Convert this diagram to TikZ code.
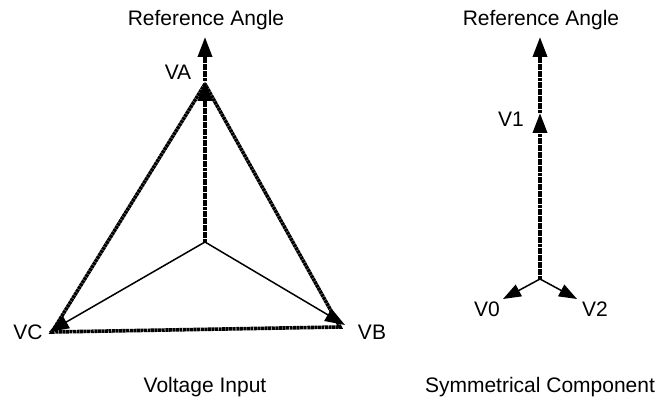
\documentclass[tikz,border=0pt]{standalone}
\usepackage{fontspec}
\setmainfont{Liberation Sans}
\usetikzlibrary{arrows.meta}
\begin{document}
\begin{tikzpicture}[x=1pt,y=-1pt,
  lbl/.style={font=\fontsize{21}{25}\selectfont, anchor=base, inner sep=0pt},
  beads/.style={line width=3.6pt, dash pattern=on 3pt off 0.55pt},
  thinline/.style={line width=1.5pt},
  bigarrow/.style={-{Triangle[length=20pt,width=14pt]}},
  smallarrow/.style={-{Triangle[length=18pt,width=13pt]}}]
\useasboundingbox (0,0) rectangle (659,403);
% left diagram
\coordinate (O) at (205,242);
\coordinate (VA) at (205,81);
\coordinate (VB) at (345,325);
\coordinate (VC) at (49,332);
\coordinate (RA) at (205,37);
\coordinate (VAe) at (205,84);
\coordinate (VBe) at (340,327);
\coordinate (VCe) at (52,332);
\draw[beads] (VAe) -- (VCe) -- (VBe) -- cycle;
\draw[beads, bigarrow] (O) -- (VA);
\draw[beads, bigarrow] (VA) -- (RA);
\draw[thinline, bigarrow] (O) -- (VB);
\draw[thinline, bigarrow] (O) -- (VC);
\node[lbl] (tRA) at (206,26) {Reference Angle};
\node[lbl] (tVA) at (178,80) {VA};
\node[lbl] (tVB) at (372,340) {VB};
\node[lbl] (tVC) at (28,340) {VC};
\node[lbl] (tVI) at (205,392) {Voltage Input};
% right diagram
\coordinate (O2) at (540,279);
\coordinate (V1) at (540,113);
\coordinate (RB) at (540,37);
\coordinate (V0) at (503,299);
\coordinate (V2) at (577,299);
\draw[beads, bigarrow] (O2) -- (V1);
\draw[beads, bigarrow] (V1) -- (RB);
\draw[thinline, smallarrow] (O2) -- (V0);
\draw[thinline, smallarrow] (O2) -- (V2);
\node[lbl] (tRB) at (541,26) {Reference Angle};
\node[lbl] (tV1) at (511,127) {V1};
\node[lbl] (tV0) at (487,317) {V0};
\node[lbl] (tV2) at (595,317) {V2};
\node[lbl] (tSC) at (540,392) {Symmetrical Component};
\end{tikzpicture}
\end{document}
